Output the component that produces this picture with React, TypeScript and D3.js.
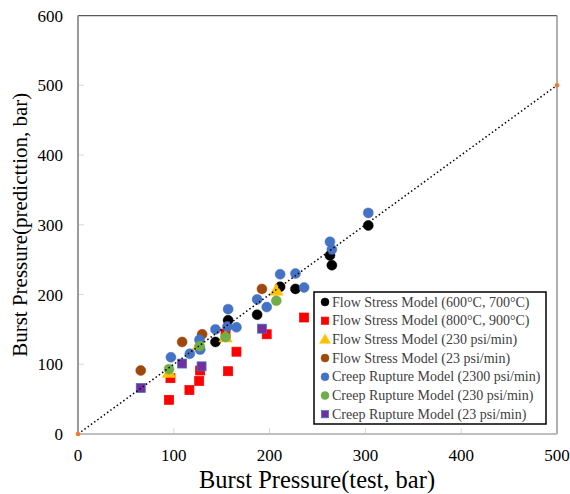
import React from "react";
import * as d3 from "d3";

const blackX = [143.5, 156.7, 187, 211, 227, 263, 265, 303];
const blackY = [132, 163, 171, 211, 208, 256, 242, 299];
const redX = [95, 96.5, 116.3, 126.5, 127.5, 154, 156.7, 165.4, 197, 236];
const redY = [49, 80, 63, 76, 91, 144, 90, 118, 143, 167];
const yellowX = [95, 126, 154, 207];
const yellowY = [88, 127, 139, 206];
const brownX = [65.5, 108.7, 129.6, 192];
const brownY = [91, 132, 143, 208];
const blueX = [97, 116.7, 126.8, 127.5, 143.5, 156, 156.7, 165.4, 187, 197, 211, 227, 236, 263, 265, 303];
const blueY = [110, 115, 135, 121, 150, 154, 179, 153, 193, 182, 229, 230, 210, 275.5, 264.6, 317];
const greenX = [95, 127, 154, 207];
const greenY = [93, 126, 139, 191];
const purpleX = [65.5, 108.7, 129, 192];
const purpleY = [66, 101, 97, 151];
const lineX = [0, 500];
const lineY = [0, 500];

const xTicks = [0, 100, 200, 300, 400, 500];
const yTicks = [0, 100, 200, 300, 400, 500, 600];

type Series = { name: string; xs: number[]; ys: number[]; shape: string; fill: string; stroke: string };

const series: Series[] = [
  { name: "Flow Stress Model (600°C, 700°C)", xs: blackX, ys: blackY, shape: "circle", fill: "#000000", stroke: "#000000" },
  { name: "Flow Stress Model (800°C, 900°C)", xs: redX, ys: redY, shape: "square", fill: "#FF0000", stroke: "#FF0000" },
  { name: "Flow Stress Model (230 psi/min)", xs: yellowX, ys: yellowY, shape: "triangle", fill: "#FFC000", stroke: "#FFC000" },
  { name: "Flow Stress Model (23 psi/min)", xs: brownX, ys: brownY, shape: "circle", fill: "#9E480E", stroke: "#9E480E" },
  { name: "Creep Rupture Model (2300 psi/min)", xs: blueX, ys: blueY, shape: "circle", fill: "#4472C4", stroke: "#4472C4" },
  { name: "Creep Rupture Model (230 psi/min)", xs: greenX, ys: greenY, shape: "circle", fill: "#70AD47", stroke: "#70AD47" },
  { name: "Creep Rupture Model (23 psi/min)", xs: purpleX, ys: purpleY, shape: "square", fill: "#7030A0", stroke: "#4472C4" },
];

const FONT = "'Liberation Serif', 'Times New Roman', serif";

function Marker({ shape, x, y, s, fill, stroke }: { shape: string; x: number; y: number; s: number; fill: string; stroke: string }) {
  if (shape === "circle") return <circle cx={x} cy={y} r={s} fill={fill} stroke={stroke} strokeWidth={0.5} />;
  if (shape === "square")
    return <rect x={x - s * 0.9} y={y - s * 0.9} width={s * 1.8} height={s * 1.8} fill={fill} stroke={stroke} strokeWidth={0.75} />;
  const p = d3.symbol(d3.symbolTriangle, s * s * 3.2)();
  return <path d={p || ""} transform={`translate(${x},${y + s * 0.2})`} fill={fill} stroke={stroke} strokeWidth={0.5} />;
}

export default function App() {
  const W = 570, H = 494;
  const left = 78, right = 557, top = 15.5, bottom = 434;
  const x = d3.scaleLinear().domain([0, 500]).range([left, right]);
  const y = d3.scaleLinear().domain([0, 600]).range([bottom, top]);
  const lineGen = d3.line<number>().x((d) => x(lineX[d])).y((d) => y(lineY[d]));

  const lgX = 314, lgY = 292, lgW = 232, lgH = 132;
  const rowH = 18.7;

  return (
    <svg width={W} height={H} style={{ position: "absolute", left: 0, top: 0, background: "#fff" }} fontFamily={FONT}>
      <rect x={0} y={0} width={W} height={H} fill="#fff" />
      {/* frame */}
      <line x1={left} x2={right} y1={top} y2={top} stroke="#595959" strokeWidth={1.25} />
      <line x1={right} x2={right} y1={top} y2={bottom} stroke="#7f7f7f" strokeWidth={1.25} />
      {/* ticks */}
      {xTicks.slice(1, -1).map((t) => (
        <line key={"xt" + t} x1={x(t)} x2={x(t)} y1={bottom} y2={bottom - 6} stroke="#d9d9d9" strokeWidth={1} />
      ))}
      {yTicks.slice(1, -1).map((t) => (
        <line key={"yt" + t} x1={left} x2={left + 6} y1={y(t)} y2={y(t)} stroke="#d9d9d9" strokeWidth={1} />
      ))}
      <line x1={left} x2={left} y1={top} y2={bottom} stroke="#8c8c8c" strokeWidth={1.75} />
      <line x1={left} x2={right} y1={bottom} y2={bottom} stroke="#bfbfbf" strokeWidth={2} />
      {/* tick labels */}
      {xTicks.map((t) => (
        <text key={"xl" + t} x={x(t)} y={461} textAnchor="middle" fontSize={17} fill="#000">
          {t}
        </text>
      ))}
      {yTicks.map((t) => (
        <text key={"yl" + t} x={63} y={y(t) + 6} textAnchor="end" fontSize={17} fill="#000">
          {t}
        </text>
      ))}
      {/* titles */}
      <text x={317} y={488} textAnchor="middle" fontSize={24.5} fill="#000">
        Burst Pressure(test, bar)
      </text>
      <text transform={`translate(27,${(top + bottom) / 2}) rotate(-90)`} textAnchor="middle" fontSize={21} fill="#000">
        Burst Pressure(predicttion, bar)
      </text>
      {/* points */}
      {series.map((s, si) =>
        s.xs.map((v, i) => (
          <Marker key={si + "-" + i} shape={s.shape} x={x(v)} y={y(s.ys[i])} s={5} fill={s.fill} stroke={s.stroke} />
        ))
      )}
      {/* 1:1 line */}
      <path d={lineGen([0, 1]) || ""} fill="none" stroke="#000" strokeWidth={1.5} strokeDasharray="1.5 2.5" />
      {lineX.map((v, i) => (
        <circle key={"le" + i} cx={x(v)} cy={y(lineY[i])} r={2.3} fill="#ED7D31" />
      ))}
      {/* legend */}
      <rect x={lgX} y={lgY} width={lgW} height={lgH} fill="#fff" stroke="#000" strokeWidth={1.5} />
      {series.map((s, i) => {
        const cy = lgY + 10 + i * rowH;
        return (
          <g key={"lg" + i}>
            <Marker shape={s.shape} x={lgX + 11} y={cy} s={4} fill={s.fill} stroke={s.stroke} />
            <text x={lgX + 18} y={cy + 4.5} fontSize={14} fill="#404040">
              {s.name}
            </text>
          </g>
        );
      })}
    </svg>
  );
}
